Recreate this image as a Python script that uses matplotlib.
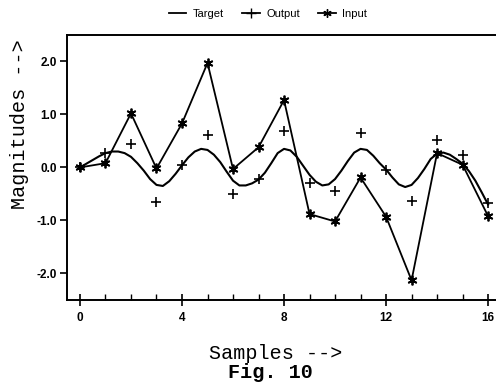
import matplotlib
matplotlib.use("Agg")
import matplotlib.pyplot as plt
from matplotlib.lines import Line2D

# sample index for the discrete series
samples = list(range(17))

input_vals = [0.0, 0.08, 1.02, -0.02, 0.83, 1.97, -0.03, 0.38, 1.27,
              -0.88, -1.02, -0.19, -0.93, -2.13, 0.27, 0.05, -0.92]
output_vals = [0.0, 0.28, 0.45, -0.65, 0.05, 0.62, -0.51, -0.22, 0.68,
               -0.29, -0.45, 0.65, -0.04, -0.63, 0.51, 0.23, -0.68]

# target curve, every quarter sample
target_x = [i * 0.25 for i in range(65)]
target_vals = [0.0, 0.07, 0.14, 0.21, 0.27, 0.30, 0.30, 0.27, 0.20, 0.08,
               -0.06, -0.22, -0.33, -0.35, -0.26, -0.12, 0.04, 0.19, 0.30, 0.35,
               0.33, 0.24, 0.10, -0.08, -0.25, -0.34, -0.34, -0.30, -0.23, -0.10,
               0.08, 0.27, 0.35, 0.32, 0.20, 0.03, -0.14, -0.27, -0.34, -0.32,
               -0.22, -0.06, 0.12, 0.28, 0.35, 0.33, 0.22, 0.08, -0.04, -0.19,
               -0.32, -0.37, -0.33, -0.20, -0.03, 0.16, 0.26, 0.28, 0.24, 0.16,
               0.07, -0.07, -0.25, -0.47, -0.70]

xticks = [0, 4, 8, 12, 16]
yticks = [-2.0, -1.0, 0.0, 1.0, 2.0]

fig = plt.figure(figsize=(4.96, 3.88), dpi=100)
ax = fig.add_axes([0.135, 0.227, 0.865, 0.683])

asterisk = (6, 2, 0)
ax.plot(target_x, target_vals, color="black", lw=1.5)
ax.plot(samples, input_vals, color="black", lw=1.3, marker=asterisk,
        markersize=7, markeredgewidth=1.3)
ax.plot(samples, output_vals, linestyle="none", color="black", marker="+",
        markersize=7, markeredgewidth=1.2)

ax.set_xlim(-0.51, 16.31)
ax.set_ylim(-2.5, 2.5)
ax.set_xticks(xticks)
ax.set_xticks(range(17), minor=True)
ax.set_yticks(yticks)
ax.set_xticklabels([str(t) for t in xticks], fontsize=8.5, fontweight="bold",
                   family="Liberation Sans")
ax.set_yticklabels(["%.1f" % t for t in yticks], fontsize=8.5, fontweight="bold",
                   family="Liberation Sans")
ax.tick_params(axis="x", which="major", direction="inout", length=8, width=1.2, pad=5)
ax.tick_params(axis="x", which="minor", direction="in", length=4, width=1.0)
ax.tick_params(axis="y", which="major", direction="out", length=5, width=1.2, pad=2)
ax.spines["right"].set_visible(False)
for s in ["left", "bottom", "top"]:
    ax.spines[s].set_linewidth(1.4)

mono = "Liberation Mono"
fig.text(0.04, 0.68, "Magnitudes -->", rotation=90, ha="center", va="center",
         fontsize=14.5, family=mono)
fig.text(0.555, 0.09, "Samples -->", ha="center", va="center",
         fontsize=14.5, family=mono)
fig.text(0.545, 0.04, "Fig. 10", ha="center", va="center",
         fontsize=14.5, family=mono, fontweight="bold")

handles = [Line2D([], [], color="black", lw=1.3),
           Line2D([], [], color="black", lw=1.3, marker="+", markersize=7),
           Line2D([], [], color="black", lw=1.3, marker=asterisk, markersize=6)]
fig.legend(handles, ["Target", "Output", "Input"], loc="center",
           bbox_to_anchor=(0.54, 0.965), ncol=3, frameon=False,
           prop={"family": "Liberation Sans", "size": 8},
           handlelength=1.6, handletextpad=0.6, columnspacing=1.6)

fig.savefig("out.png", dpi=100)
